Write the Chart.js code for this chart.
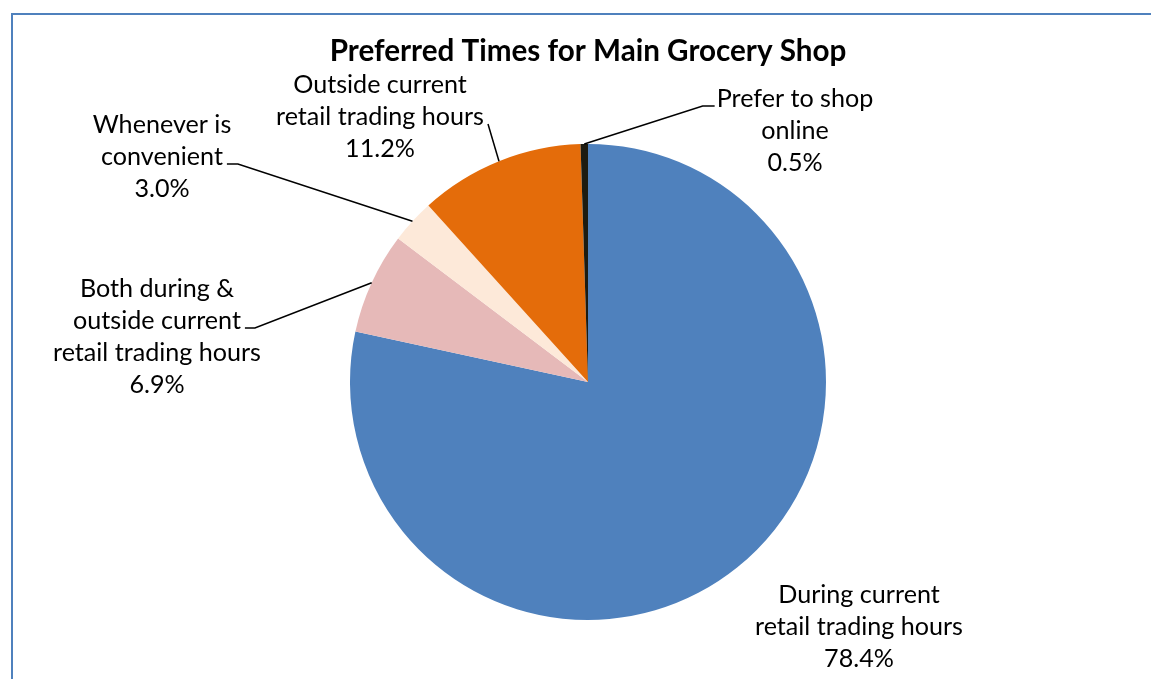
<!DOCTYPE html>
<html>
<head>
<meta charset="utf-8">
<script src="https://cdn.jsdelivr.net/npm/chart.js@4.4.1/dist/chart.umd.min.js"></script>
<style>
  html, body { margin: 0; padding: 0; background: #ffffff; }
  #wrap { position: relative; width: 1151px; height: 679px; }
  canvas { display: block; }
</style>
</head>
<body>
<div id="wrap"><canvas id="c" width="1151" height="679"></canvas></div>
<script>
// ---- data ----
const chartTitle = 'Preferred Times for Main Grocery Shop';
const categories = [
  'During current retail trading hours',
  'Both during & outside current retail trading hours',
  'Whenever is convenient',
  'Outside current retail trading hours',
  'Prefer to shop online'
];
const values = [78.4, 6.9, 3.0, 11.2, 0.5];
const labelLines = [
  ['During current', 'retail trading hours'],
  ['Both during &', 'outside current', 'retail trading hours'],
  ['Whenever is', 'convenient'],
  ['Outside current', 'retail trading hours'],
  ['Prefer to shop', 'online']
];
const sliceColors = ['#4F81BD', '#E6B9B8', '#FDE9D9', '#E46C0A', '#1D1B10'];

// ---- label layout (offsets from pie centre, px) ----
const labelLayout = [
  { cx: 271, firstBase: 221, leader: null },
  { cx: -431, firstBase: -85, leader: { line: 1, side: 'right', gap: 4, stub: 10 } },
  { cx: -426, firstBase: -249, leader: { line: 1, side: 'right', gap: 4, stub: 11 } },
  { cx: -208, firstBase: -289, leader: { line: 1, side: 'right', gap: 4, stub: 0 } },
  { cx: 207, firstBase: -275, leader: { line: 0, side: 'left', gap: 2, stub: 12 } }
];
const lineStep = 32;
const labelFontFamily = 'Lato, "Open Sans", sans-serif';

function fitFont(ctx, text, weight, targetW) {
  ctx.font = weight + ' 100px ' + labelFontFamily;
  const w = ctx.measureText(text).width;
  return 100 * targetW / w;
}

const decorPlugin = {
  id: 'decor',
  beforeDraw(chart) {
    const ctx = chart.ctx;
    ctx.save();
    ctx.fillStyle = '#ffffff';
    ctx.fillRect(0, 0, chart.width, chart.height);
    ctx.strokeStyle = '#4F81BD';
    ctx.lineWidth = 2;
    ctx.beginPath();
    ctx.moveTo(chart.width + 5, 14);
    ctx.lineTo(12, 14);
    ctx.lineTo(12, chart.height + 5);
    ctx.stroke();
    ctx.restore();
  },
  afterDraw(chart) {
    const ctx = chart.ctx;
    const meta = chart.getDatasetMeta(0);
    const arc0 = meta.data[0];
    const cx0 = arc0.x, cy0 = arc0.y;
    ctx.save();
    // title
    const tSize = fitFont(ctx, chartTitle, 'bold', 517);
    ctx.font = 'bold ' + tSize.toFixed(2) + 'px ' + labelFontFamily;
    ctx.fillStyle = '#000000';
    ctx.textAlign = 'center';
    ctx.textBaseline = 'alphabetic';
    ctx.fillText(chartTitle, cx0, 61);

    const lSize = fitFont(ctx, 'retail trading hours', 'normal', 208);
    ctx.font = lSize.toFixed(2) + 'px ' + labelFontFamily;

    meta.data.forEach((arc, i) => {
      const lay = labelLayout[i];
      const lines = labelLines[i].concat([values[i].toFixed(1) + '%']);
      const x = cx0 + lay.cx;
      lines.forEach((ln, k) => {
        ctx.fillText(ln, x, cy0 + lay.firstBase + k * lineStep);
      });
      if (lay.leader) {
        const L = lay.leader;
        const lw = ctx.measureText(lines[L.line]).width;
        const y = cy0 + lay.firstBase + L.line * lineStep - 1;
        const sgn = L.side === 'right' ? 1 : -1;
        const x1 = x + sgn * (lw / 2 + L.gap);
        const x2 = x1 + sgn * L.stub;
        const p = arc.getProps(['startAngle', 'endAngle', 'outerRadius'], true);
        const mid = (p.startAngle + p.endAngle) / 2;
        const ex = cx0 + Math.cos(mid) * p.outerRadius;
        const ey = cy0 + Math.sin(mid) * p.outerRadius;
        ctx.strokeStyle = '#000000';
        ctx.lineWidth = 1.5;
        ctx.beginPath();
        ctx.moveTo(x1, y);
        ctx.lineTo(x2, y);
        ctx.lineTo(ex, ey);
        ctx.stroke();
      }
    });
    ctx.restore();
  }
};

new Chart(document.getElementById('c'), {
  type: 'pie',
  data: {
    labels: categories,
    datasets: [{
      data: values,
      backgroundColor: sliceColors,
      borderWidth: 0,
      hoverOffset: 0
    }]
  },
  options: {
    responsive: false,
    animation: false,
    layout: { padding: { top: 144, bottom: 59, left: 350, right: 325 } },
    plugins: {
      legend: { display: false },
      tooltip: { enabled: false },
      title: { display: false }
    }
  },
  plugins: [decorPlugin]
});
</script>
</body>
</html>
